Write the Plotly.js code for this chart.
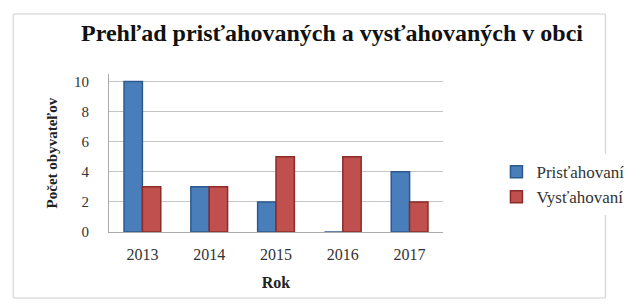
<!DOCTYPE html>
<html>
<head>
<meta charset="utf-8">
<script src="https://cdn.plot.ly/plotly-3.0.1.min.js"></script>
<style>html,body{margin:0;padding:0;background:#fff;}#chart{width:641px;height:307px;}
.legendtext{font-family:'Liberation Serif',serif !important;}</style>
</head>
<body>
<div id="chart"></div>
<script>
const years = ["2013", "2014", "2015", "2016", "2017"];
const pristahovani = [10, 3, 2, 0, 4];
const vystahovani = [3, 3, 5, 5, 2];
const seriesNames = ["Prisťahovaní", "Vysťahovaní"];

const traces = [
  {type: "bar", name: seriesNames[0], x: years, y: pristahovani,
   marker: {color: "#4a7ebb", line: {color: "#2c5a8f", width: 1.5}}},
  {type: "bar", name: seriesNames[1], x: years, y: vystahovani,
   marker: {color: "#c0504d", line: {color: "#8c2b28", width: 1.5}}}
];

const font = "Liberation Serif";
const layout = {
  width: 641, height: 307,
  margin: {l: 109, r: 180, t: 74, b: 75},
  paper_bgcolor: "#ffffff", plot_bgcolor: "#ffffff",
  font: {family: font, color: "#222", size: 14},
  title: {text: "<b>Prehľad prisťahovaných a vysťahovaných v obci</b>",
          font: {family: font, size: 24, color: "#111"}, x: 0.518, xanchor: "center", y: 0.895, yanchor: "middle"},
  barmode: "group", bargap: 0.45, bargroupgap: 0,
  xaxis: {title: {text: "<b>Rok</b>", font: {family: font, size: 16, color: "#222"}, standoff: 14},
          tickfont: {family: font, size: 16, color: "#333"}, showline: true, linecolor: "#aaa",
          ticks: "", showgrid: false, ticklabelstandoff: 8},
  yaxis: {title: {text: "<b>Počet obyvateľov</b>", font: {family: font, size: 15, color: "#222"}, standoff: 12},
          range: [0, 10.5], tickvals: [0, 2, 4, 6, 8, 10], tickfont: {family: font, size: 15, color: "#333"},
          showgrid: true, gridcolor: "#c4c4c4", gridwidth: 1, zeroline: false, showline: true, linecolor: "#aaa", ticks: "",
          ticklabelstandoff: 16},
  legend: {x: 1.16, y: 0.30, xanchor: "left", yanchor: "middle", font: {family: "Liberation Serif, serif", size: 17, color: "#333"},
           itemwidth: 30, tracegroupgap: 2},
  shapes: [
    {type: "rect", xref: "paper", yref: "paper", x0: -0.287, x1: 1.486, y0: -0.418, y1: 1.38,
     line: {color: "#cfcfcf", width: 1}, fillcolor: "rgba(0,0,0,0)"}
  ]
};
Plotly.newPlot("chart", traces, layout, {displayModeBar: false, staticPlot: true});
</script>
</body>
</html>
